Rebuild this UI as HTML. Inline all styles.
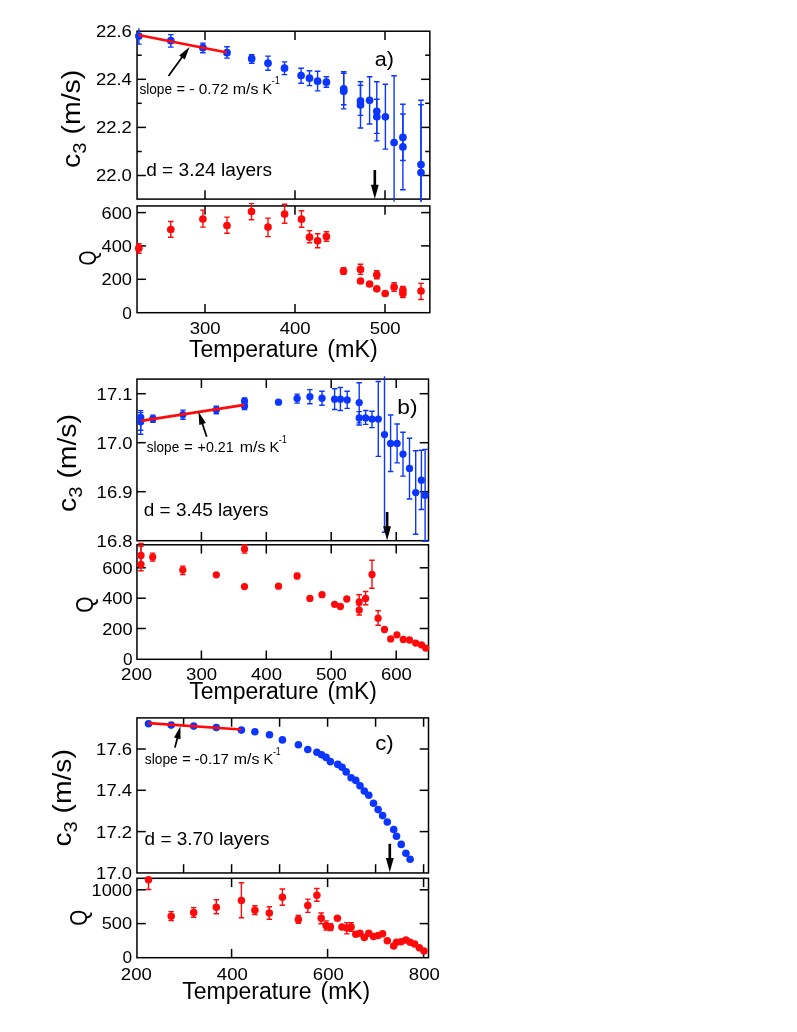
<!DOCTYPE html>
<html><head><meta charset="utf-8"><title>Figure</title>
<style>
html,body{margin:0;padding:0;background:#fff;}
svg{display:block;font-family:"Liberation Sans",sans-serif;will-change:transform;}
text{fill:#000;}
</style></head>
<body>
<svg width="797" height="1032" viewBox="0 0 797 1032">
<rect width="797" height="1032" fill="#fff"/>
<rect x="137.05" y="31.2" width="292.8" height="167.9" fill="none" stroke="#000" stroke-width="1.5"/>
<rect x="137.05" y="205.95" width="292.8" height="106.75" fill="none" stroke="#000" stroke-width="1.5"/>
<line x1="205.0" y1="31.2" x2="205.0" y2="40.0" stroke="#000" stroke-width="1.5" />
<line x1="205.0" y1="199.1" x2="205.0" y2="190.3" stroke="#000" stroke-width="1.5" />
<line x1="295.0" y1="31.2" x2="295.0" y2="40.0" stroke="#000" stroke-width="1.5" />
<line x1="295.0" y1="199.1" x2="295.0" y2="190.3" stroke="#000" stroke-width="1.5" />
<line x1="385.0" y1="31.2" x2="385.0" y2="40.0" stroke="#000" stroke-width="1.5" />
<line x1="385.0" y1="199.1" x2="385.0" y2="190.3" stroke="#000" stroke-width="1.5" />
<line x1="205.0" y1="205.9" x2="205.0" y2="214.8" stroke="#000" stroke-width="1.5" />
<line x1="205.0" y1="312.7" x2="205.0" y2="303.9" stroke="#000" stroke-width="1.5" />
<line x1="295.0" y1="205.9" x2="295.0" y2="214.8" stroke="#000" stroke-width="1.5" />
<line x1="295.0" y1="312.7" x2="295.0" y2="303.9" stroke="#000" stroke-width="1.5" />
<line x1="385.0" y1="205.9" x2="385.0" y2="214.8" stroke="#000" stroke-width="1.5" />
<line x1="385.0" y1="312.7" x2="385.0" y2="303.9" stroke="#000" stroke-width="1.5" />
<line x1="137.1" y1="79.3" x2="145.9" y2="79.3" stroke="#000" stroke-width="1.5" />
<line x1="429.9" y1="79.3" x2="421.1" y2="79.3" stroke="#000" stroke-width="1.5" />
<line x1="137.1" y1="127.4" x2="145.9" y2="127.4" stroke="#000" stroke-width="1.5" />
<line x1="429.9" y1="127.4" x2="421.1" y2="127.4" stroke="#000" stroke-width="1.5" />
<line x1="137.1" y1="175.5" x2="145.9" y2="175.5" stroke="#000" stroke-width="1.5" />
<line x1="429.9" y1="175.5" x2="421.1" y2="175.5" stroke="#000" stroke-width="1.5" />
<line x1="137.1" y1="55.2" x2="141.7" y2="55.2" stroke="#000" stroke-width="1.5" />
<line x1="429.9" y1="55.2" x2="425.2" y2="55.2" stroke="#000" stroke-width="1.5" />
<line x1="137.1" y1="103.3" x2="141.7" y2="103.3" stroke="#000" stroke-width="1.5" />
<line x1="429.9" y1="103.3" x2="425.2" y2="103.3" stroke="#000" stroke-width="1.5" />
<line x1="137.1" y1="151.5" x2="141.7" y2="151.5" stroke="#000" stroke-width="1.5" />
<line x1="429.9" y1="151.5" x2="425.2" y2="151.5" stroke="#000" stroke-width="1.5" />
<line x1="137.1" y1="212.6" x2="145.9" y2="212.6" stroke="#000" stroke-width="1.5" />
<line x1="429.9" y1="212.6" x2="421.1" y2="212.6" stroke="#000" stroke-width="1.5" />
<line x1="137.1" y1="245.9" x2="145.9" y2="245.9" stroke="#000" stroke-width="1.5" />
<line x1="429.9" y1="245.9" x2="421.1" y2="245.9" stroke="#000" stroke-width="1.5" />
<line x1="137.1" y1="279.3" x2="145.9" y2="279.3" stroke="#000" stroke-width="1.5" />
<line x1="429.9" y1="279.3" x2="421.1" y2="279.3" stroke="#000" stroke-width="1.5" />
<rect x="136.95" y="379.1" width="291.55" height="161.60000000000002" fill="none" stroke="#000" stroke-width="1.5"/>
<rect x="136.95" y="544.8" width="291.55" height="114.5" fill="none" stroke="#000" stroke-width="1.5"/>
<line x1="201.4" y1="379.1" x2="201.4" y2="387.9" stroke="#000" stroke-width="1.5" />
<line x1="201.4" y1="540.7" x2="201.4" y2="531.9" stroke="#000" stroke-width="1.5" />
<line x1="266.3" y1="379.1" x2="266.3" y2="387.9" stroke="#000" stroke-width="1.5" />
<line x1="266.3" y1="540.7" x2="266.3" y2="531.9" stroke="#000" stroke-width="1.5" />
<line x1="331.2" y1="379.1" x2="331.2" y2="387.9" stroke="#000" stroke-width="1.5" />
<line x1="331.2" y1="540.7" x2="331.2" y2="531.9" stroke="#000" stroke-width="1.5" />
<line x1="396.2" y1="379.1" x2="396.2" y2="387.9" stroke="#000" stroke-width="1.5" />
<line x1="396.2" y1="540.7" x2="396.2" y2="531.9" stroke="#000" stroke-width="1.5" />
<line x1="201.4" y1="544.8" x2="201.4" y2="553.6" stroke="#000" stroke-width="1.5" />
<line x1="201.4" y1="659.3" x2="201.4" y2="650.5" stroke="#000" stroke-width="1.5" />
<line x1="266.3" y1="544.8" x2="266.3" y2="553.6" stroke="#000" stroke-width="1.5" />
<line x1="266.3" y1="659.3" x2="266.3" y2="650.5" stroke="#000" stroke-width="1.5" />
<line x1="331.2" y1="544.8" x2="331.2" y2="553.6" stroke="#000" stroke-width="1.5" />
<line x1="331.2" y1="659.3" x2="331.2" y2="650.5" stroke="#000" stroke-width="1.5" />
<line x1="396.2" y1="544.8" x2="396.2" y2="553.6" stroke="#000" stroke-width="1.5" />
<line x1="396.2" y1="659.3" x2="396.2" y2="650.5" stroke="#000" stroke-width="1.5" />
<line x1="136.9" y1="393.7" x2="145.8" y2="393.7" stroke="#000" stroke-width="1.5" />
<line x1="428.5" y1="393.7" x2="419.7" y2="393.7" stroke="#000" stroke-width="1.5" />
<line x1="136.9" y1="442.7" x2="145.8" y2="442.7" stroke="#000" stroke-width="1.5" />
<line x1="428.5" y1="442.7" x2="419.7" y2="442.7" stroke="#000" stroke-width="1.5" />
<line x1="136.9" y1="491.7" x2="145.8" y2="491.7" stroke="#000" stroke-width="1.5" />
<line x1="428.5" y1="491.7" x2="419.7" y2="491.7" stroke="#000" stroke-width="1.5" />
<line x1="136.9" y1="567.8" x2="145.8" y2="567.8" stroke="#000" stroke-width="1.5" />
<line x1="428.5" y1="567.8" x2="419.7" y2="567.8" stroke="#000" stroke-width="1.5" />
<line x1="136.9" y1="598.2" x2="145.8" y2="598.2" stroke="#000" stroke-width="1.5" />
<line x1="428.5" y1="598.2" x2="419.7" y2="598.2" stroke="#000" stroke-width="1.5" />
<line x1="136.9" y1="628.5" x2="145.8" y2="628.5" stroke="#000" stroke-width="1.5" />
<line x1="428.5" y1="628.5" x2="419.7" y2="628.5" stroke="#000" stroke-width="1.5" />
<rect x="136.95" y="717.9" width="291.55" height="155.05000000000007" fill="none" stroke="#000" stroke-width="1.5"/>
<rect x="136.95" y="878.3" width="291.55" height="79.40000000000009" fill="none" stroke="#000" stroke-width="1.5"/>
<line x1="183.6" y1="717.9" x2="183.6" y2="726.7" stroke="#000" stroke-width="1.5" />
<line x1="183.6" y1="873.0" x2="183.6" y2="864.2" stroke="#000" stroke-width="1.5" />
<line x1="231.6" y1="717.9" x2="231.6" y2="726.7" stroke="#000" stroke-width="1.5" />
<line x1="231.6" y1="873.0" x2="231.6" y2="864.2" stroke="#000" stroke-width="1.5" />
<line x1="279.6" y1="717.9" x2="279.6" y2="726.7" stroke="#000" stroke-width="1.5" />
<line x1="279.6" y1="873.0" x2="279.6" y2="864.2" stroke="#000" stroke-width="1.5" />
<line x1="327.6" y1="717.9" x2="327.6" y2="726.7" stroke="#000" stroke-width="1.5" />
<line x1="327.6" y1="873.0" x2="327.6" y2="864.2" stroke="#000" stroke-width="1.5" />
<line x1="375.6" y1="717.9" x2="375.6" y2="726.7" stroke="#000" stroke-width="1.5" />
<line x1="375.6" y1="873.0" x2="375.6" y2="864.2" stroke="#000" stroke-width="1.5" />
<line x1="423.6" y1="717.9" x2="423.6" y2="726.7" stroke="#000" stroke-width="1.5" />
<line x1="423.6" y1="873.0" x2="423.6" y2="864.2" stroke="#000" stroke-width="1.5" />
<line x1="231.6" y1="878.3" x2="231.6" y2="887.1" stroke="#000" stroke-width="1.5" />
<line x1="231.6" y1="957.7" x2="231.6" y2="948.9" stroke="#000" stroke-width="1.5" />
<line x1="327.6" y1="878.3" x2="327.6" y2="887.1" stroke="#000" stroke-width="1.5" />
<line x1="327.6" y1="957.7" x2="327.6" y2="948.9" stroke="#000" stroke-width="1.5" />
<line x1="423.6" y1="878.3" x2="423.6" y2="887.1" stroke="#000" stroke-width="1.5" />
<line x1="423.6" y1="957.7" x2="423.6" y2="948.9" stroke="#000" stroke-width="1.5" />
<line x1="136.9" y1="749.0" x2="145.8" y2="749.0" stroke="#000" stroke-width="1.5" />
<line x1="428.5" y1="749.0" x2="419.7" y2="749.0" stroke="#000" stroke-width="1.5" />
<line x1="136.9" y1="790.3" x2="145.8" y2="790.3" stroke="#000" stroke-width="1.5" />
<line x1="428.5" y1="790.3" x2="419.7" y2="790.3" stroke="#000" stroke-width="1.5" />
<line x1="136.9" y1="831.6" x2="145.8" y2="831.6" stroke="#000" stroke-width="1.5" />
<line x1="428.5" y1="831.6" x2="419.7" y2="831.6" stroke="#000" stroke-width="1.5" />
<line x1="136.9" y1="889.8" x2="145.8" y2="889.8" stroke="#000" stroke-width="1.5" />
<line x1="428.5" y1="889.8" x2="419.7" y2="889.8" stroke="#000" stroke-width="1.5" />
<line x1="136.9" y1="923.6" x2="145.8" y2="923.6" stroke="#000" stroke-width="1.5" />
<line x1="428.5" y1="923.6" x2="419.7" y2="923.6" stroke="#000" stroke-width="1.5" />
<clipPath id="ca"><rect x="132.05" y="20" width="302.8" height="181.7"/></clipPath>
<clipPath id="caq"><rect x="132.05" y="203" width="302.8" height="115"/></clipPath>
<g stroke="#0a36ff" stroke-width="1.4" fill="none" clip-path="url(#ca)">
<path d="M138.9 28.3V44.1M136.1 44.1h5.6"/>
<path d="M170.8 34.6V47.1M168.0 34.6h5.6M168.0 47.1h5.6"/>
<path d="M202.9 43.1V52.7M200.1 43.1h5.6M200.1 52.7h5.6"/>
<path d="M227.0 46.7V58.1M224.2 46.7h5.6M224.2 58.1h5.6"/>
<path d="M251.7 54.7V63.2M248.9 54.7h5.6M248.9 63.2h5.6"/>
<path d="M268.0 56.1V70.2M265.2 56.1h5.6M265.2 70.2h5.6"/>
<path d="M284.5 61.9V74.6M281.7 61.9h5.6M281.7 74.6h5.6"/>
<path d="M301.1 68.2V83.2M298.3 68.2h5.6M298.3 83.2h5.6"/>
<path d="M309.5 70.8V85.6M306.7 70.8h5.6M306.7 85.6h5.6"/>
<path d="M317.6 71.2V90.9M314.8 71.2h5.6M314.8 90.9h5.6"/>
<path d="M326.4 76.8V87.2M323.6 76.8h5.6M323.6 87.2h5.6"/>
<path d="M343.7 71.8V104.7M340.9 71.8h5.6M340.9 104.7h5.6"/>
<path d="M343.7 73.2V108.9M340.9 73.2h5.6M340.9 108.9h5.6"/>
<path d="M360.5 81.8V115.4M357.7 81.8h5.6M357.7 115.4h5.6"/>
<path d="M360.5 85.2V128.0M357.7 85.2h5.6M357.7 128.0h5.6"/>
<path d="M369.6 76.8V124.0M366.8 76.8h5.6M366.8 124.0h5.6"/>
<path d="M376.8 81.8V133.4M374.0 81.8h5.6M374.0 133.4h5.6"/>
<path d="M376.8 99.3V140.9M374.0 99.3h5.6M374.0 140.9h5.6"/>
<path d="M385.4 84.2V149.1M382.6 84.2h5.6M382.6 149.1h5.6"/>
<path d="M394.1 75.8V230.0M391.3 75.8h5.6"/>
<path d="M402.9 104.3V160.5M400.1 104.3h5.6M400.1 160.5h5.6"/>
<path d="M402.9 114.0V189.7M400.1 114.0h5.6M400.1 189.7h5.6"/>
<path d="M421.0 100.3V230.0M418.2 100.3h5.6"/>
<path d="M421.0 104.7V230.0M418.2 104.7h5.6"/>
</g>
<g fill="#0a36ff">
<circle cx="138.9" cy="36.1" r="3.85"/>
<circle cx="170.8" cy="40.7" r="3.85"/>
<circle cx="202.9" cy="47.7" r="3.85"/>
<circle cx="227.0" cy="52.7" r="3.85"/>
<circle cx="251.7" cy="58.7" r="3.85"/>
<circle cx="268.0" cy="63.2" r="3.85"/>
<circle cx="284.5" cy="68.2" r="3.85"/>
<circle cx="301.1" cy="75.6" r="3.85"/>
<circle cx="309.5" cy="78.2" r="3.85"/>
<circle cx="317.6" cy="81.2" r="3.85"/>
<circle cx="326.4" cy="82.2" r="3.85"/>
<circle cx="343.7" cy="88.9" r="3.85"/>
<circle cx="343.7" cy="91.3" r="3.85"/>
<circle cx="360.5" cy="100.9" r="3.85"/>
<circle cx="360.5" cy="104.9" r="3.85"/>
<circle cx="369.6" cy="100.3" r="3.85"/>
<circle cx="376.8" cy="111.3" r="3.85"/>
<circle cx="376.8" cy="116.8" r="3.85"/>
<circle cx="385.4" cy="116.8" r="3.85"/>
<circle cx="394.1" cy="142.5" r="3.85"/>
<circle cx="402.9" cy="137.4" r="3.85"/>
<circle cx="402.9" cy="146.9" r="3.85"/>
<circle cx="421.0" cy="164.6" r="3.85"/>
<circle cx="421.0" cy="172.6" r="3.85"/>
</g>
<line x1="138.4" y1="35" x2="227" y2="52.5" stroke="#ff0a0a" stroke-width="2.7"/>
<path d="M168.5 76.1L183.1 55.7" stroke="#000" stroke-width="1.75" fill="none"/>
<path d="M184.8 59.4L179.2 55.4L189.5 46.9Z" fill="#000"/>
<g stroke="#ff0a0a" stroke-width="1.4" fill="none" clip-path="url(#caq)">
<path d="M138.8 243.8V253.2M136.0 243.8h5.6M136.0 253.2h5.6"/>
<path d="M170.8 221.5V237.2M168.0 221.5h5.6M168.0 237.2h5.6"/>
<path d="M202.9 210.1V227.1M200.1 210.1h5.6M200.1 227.1h5.6"/>
<path d="M227.0 217.1V233.2M224.2 217.1h5.6M224.2 233.2h5.6"/>
<path d="M251.5 203.4V219.7M248.7 203.4h5.6M248.7 219.7h5.6"/>
<path d="M268.0 218.1V236.6M265.2 218.1h5.6M265.2 236.6h5.6"/>
<path d="M284.6 204.3V223.3M281.8 204.3h5.6M281.8 223.3h5.6"/>
<path d="M301.5 210.7V227.2M298.7 210.7h5.6M298.7 227.2h5.6"/>
<path d="M309.5 230.6V242.7M306.7 230.6h5.6M306.7 242.7h5.6"/>
<path d="M317.6 233.8V247.7M314.8 233.8h5.6M314.8 247.7h5.6"/>
<path d="M326.4 231.8V241.2M323.6 231.8h5.6M323.6 241.2h5.6"/>
<path d="M343.5 267.8V274.4M340.7 267.8h5.6M340.7 274.4h5.6"/>
<path d="M360.5 264.3V274.4M357.7 264.3h5.6M357.7 274.4h5.6"/>
<path d="M376.8 270.8V278.8M374.0 270.8h5.6M374.0 278.8h5.6"/>
<path d="M394.1 282.8V291.4M391.3 282.8h5.6M391.3 291.4h5.6"/>
<path d="M402.9 286.4V293.5M400.1 286.4h5.6M400.1 293.5h5.6"/>
<path d="M402.9 289.4V297.5M400.1 289.4h5.6M400.1 297.5h5.6"/>
<path d="M421.0 283.4V299.5M418.2 283.4h5.6M418.2 299.5h5.6"/>
</g>
<g fill="#ff0a0a">
<circle cx="138.8" cy="248.2" r="3.85"/>
<circle cx="170.8" cy="229.5" r="3.85"/>
<circle cx="202.9" cy="219.1" r="3.85"/>
<circle cx="227.0" cy="225.5" r="3.85"/>
<circle cx="251.5" cy="211.5" r="3.85"/>
<circle cx="268.0" cy="227.1" r="3.85"/>
<circle cx="284.6" cy="214.1" r="3.85"/>
<circle cx="301.5" cy="219.2" r="3.85"/>
<circle cx="309.5" cy="237.2" r="3.85"/>
<circle cx="317.6" cy="240.8" r="3.85"/>
<circle cx="326.4" cy="236.6" r="3.85"/>
<circle cx="343.5" cy="271.0" r="3.85"/>
<circle cx="360.5" cy="269.4" r="3.85"/>
<circle cx="360.5" cy="281.0" r="3.85"/>
<circle cx="369.6" cy="284.0" r="3.85"/>
<circle cx="376.8" cy="274.8" r="3.85"/>
<circle cx="376.8" cy="288.8" r="3.85"/>
<circle cx="385.2" cy="293.5" r="3.85"/>
<circle cx="394.1" cy="287.0" r="3.85"/>
<circle cx="402.9" cy="290.0" r="3.85"/>
<circle cx="402.9" cy="293.5" r="3.85"/>
<circle cx="421.0" cy="291.0" r="3.85"/>
</g>
<text x="95.9" y="37.1" font-size="16.3" text-anchor="start" textLength="36.0" lengthAdjust="spacingAndGlyphs" >22.6</text>
<text x="95.9" y="85.2" font-size="16.3" text-anchor="start" textLength="36.0" lengthAdjust="spacingAndGlyphs" >22.4</text>
<text x="95.9" y="133.3" font-size="16.3" text-anchor="start" textLength="36.0" lengthAdjust="spacingAndGlyphs" >22.2</text>
<text x="95.9" y="181.4" font-size="16.3" text-anchor="start" textLength="36.0" lengthAdjust="spacingAndGlyphs" >22.0</text>
<text x="101.5" y="218.5" font-size="16.3" text-anchor="start" textLength="30.4" lengthAdjust="spacingAndGlyphs" >600</text>
<text x="101.5" y="251.9" font-size="16.3" text-anchor="start" textLength="30.4" lengthAdjust="spacingAndGlyphs" >400</text>
<text x="101.5" y="285.2" font-size="16.3" text-anchor="start" textLength="30.4" lengthAdjust="spacingAndGlyphs" >200</text>
<text x="122.3" y="318.6" font-size="16.3" text-anchor="start" textLength="9.6" lengthAdjust="spacingAndGlyphs" >0</text>
<text x="189.7" y="333.9" font-size="16.3" text-anchor="start" textLength="31.0" lengthAdjust="spacingAndGlyphs" >300</text>
<text x="279.7" y="333.9" font-size="16.3" text-anchor="start" textLength="31.0" lengthAdjust="spacingAndGlyphs" >400</text>
<text x="369.7" y="333.9" font-size="16.3" text-anchor="start" textLength="31.0" lengthAdjust="spacingAndGlyphs" >500</text>
<text x="189.0" y="356.6" font-size="23.5" text-anchor="start" textLength="129.2" lengthAdjust="spacingAndGlyphs" >Temperature</text>
<text x="327.2" y="356.6" font-size="23.5" text-anchor="start" textLength="50.6" lengthAdjust="spacingAndGlyphs" >(mK)</text>
<text transform="translate(79.9,168.0) rotate(-90)" font-size="26" textLength="98.3" lengthAdjust="spacingAndGlyphs">c<tspan font-size="18.5" dy="6">3</tspan><tspan dy="-6"> (m/s)</tspan></text>
<text transform="translate(95.8,258.0) rotate(-90)" font-size="23.5" text-anchor="middle" textLength="15" lengthAdjust="spacingAndGlyphs">Q</text>
<text x="374.8" y="66.1" font-size="19.5" text-anchor="start" textLength="19.2" lengthAdjust="spacingAndGlyphs" >a)</text>
<text x="146.2" y="175.9" font-size="18" text-anchor="start" textLength="125.8" lengthAdjust="spacingAndGlyphs" >d = 3.24 layers</text>
<text x="139.4" y="93.5" font-size="14.2" text-anchor="start" textLength="32.7" lengthAdjust="spacingAndGlyphs" >slope</text>
<text x="176.6" y="93.5" font-size="14.2" text-anchor="start" textLength="8.6" lengthAdjust="spacingAndGlyphs" >=</text>
<text x="189.0" y="93.5" font-size="14.2" text-anchor="start" textLength="5.8" lengthAdjust="spacingAndGlyphs" >-</text>
<text x="198.7" y="93.5" font-size="14.2" text-anchor="start" textLength="29.9" lengthAdjust="spacingAndGlyphs" >0.72</text>
<text x="232.8" y="93.5" font-size="14.2" text-anchor="start" textLength="25.7" lengthAdjust="spacingAndGlyphs" >m/s</text>
<text x="262.5" y="93.5" font-size="14.2" text-anchor="start" textLength="9.6" lengthAdjust="spacingAndGlyphs" >K</text>
<text x="271.8" y="84.0" font-size="10.3" text-anchor="start" textLength="8.1" lengthAdjust="spacingAndGlyphs" >-1</text>
<path d="M374.8 170.0V186.7" stroke="#000" stroke-width="2.65" fill="none"/>
<path d="M370.9 184.7L378.7 184.7L374.8 198.9Z" fill="#000"/>
<clipPath id="cb"><rect x="131.95" y="376.2" width="301.55" height="165.90000000000003"/></clipPath>
<clipPath id="cbq"><rect x="131.95" y="541.5" width="301.55" height="121.5"/></clipPath>
<g stroke="#0a36ff" stroke-width="1.4" fill="none" clip-path="url(#cb)">
<path d="M140.7 410.6V430.2M137.9 410.6h5.5M137.9 430.2h5.5"/>
<path d="M140.7 412.6V434.2M137.9 412.6h5.5M137.9 434.2h5.5"/>
<path d="M152.9 415.1V422.2M150.2 415.1h5.5M150.2 422.2h5.5"/>
<path d="M182.9 410.1V419.2M180.2 410.1h5.5M180.2 419.2h5.5"/>
<path d="M216.3 406.2V413.8M213.6 406.2h5.5M213.6 413.8h5.5"/>
<path d="M244.5 398.0V404.0M241.8 398.0h5.5M241.8 404.0h5.5"/>
<path d="M244.5 403.0V409.5M241.8 403.0h5.5M241.8 409.5h5.5"/>
<path d="M297.1 394.1V403.1M294.4 394.1h5.5M294.4 403.1h5.5"/>
<path d="M309.9 389.6V403.7M307.1 389.6h5.5M307.1 403.7h5.5"/>
<path d="M322.0 391.3V405.2M319.2 391.3h5.5M319.2 405.2h5.5"/>
<path d="M334.6 388.8V409.5M331.9 388.8h5.5M331.9 409.5h5.5"/>
<path d="M340.4 387.5V410.5M337.6 387.5h5.5M337.6 410.5h5.5"/>
<path d="M347.2 391.3V408.4M344.4 391.3h5.5M344.4 408.4h5.5"/>
<path d="M359.2 382.8V422.9M356.4 382.8h5.5M356.4 422.9h5.5"/>
<path d="M359.2 411.6V425.0M356.4 411.6h5.5M356.4 425.0h5.5"/>
<path d="M365.6 410.5V424.4M362.9 410.5h5.5M362.9 424.4h5.5"/>
<path d="M372.0 411.2V427.6M369.2 411.2h5.5M369.2 427.6h5.5"/>
<path d="M378.3 381.5V456.4M375.6 381.5h5.5M375.6 456.4h5.5"/>
<path d="M384.5 370.0V532.2M381.8 532.2h5.5"/>
<path d="M390.6 415.0V471.5M387.9 415.0h5.5M387.9 471.5h5.5"/>
<path d="M397.1 424.0V462.9M394.4 424.0h5.5M394.4 462.9h5.5"/>
<path d="M403.0 432.3V476.1M400.2 432.3h5.5M400.2 476.1h5.5"/>
<path d="M409.5 438.2V499.0M406.8 438.2h5.5M406.8 499.0h5.5"/>
<path d="M415.7 450.7V534.2M412.9 450.7h5.5M412.9 534.2h5.5"/>
<path d="M421.4 450.2V509.5M418.6 450.2h5.5M418.6 509.5h5.5"/>
<path d="M425.1 449.4V541.3M422.4 449.4h5.5M422.4 541.3h5.5"/>
</g>
<g fill="#0a36ff">
<circle cx="140.7" cy="417.3" r="3.65"/>
<circle cx="140.7" cy="421.8" r="3.65"/>
<circle cx="152.9" cy="418.7" r="3.65"/>
<circle cx="182.9" cy="414.6" r="3.65"/>
<circle cx="216.3" cy="409.8" r="3.65"/>
<circle cx="244.5" cy="401.1" r="3.65"/>
<circle cx="244.5" cy="406.1" r="3.65"/>
<circle cx="278.5" cy="402.2" r="3.65"/>
<circle cx="297.1" cy="398.4" r="3.65"/>
<circle cx="309.9" cy="396.7" r="3.65"/>
<circle cx="322.0" cy="398.2" r="3.65"/>
<circle cx="334.6" cy="399.2" r="3.65"/>
<circle cx="340.4" cy="399.2" r="3.65"/>
<circle cx="347.2" cy="399.9" r="3.65"/>
<circle cx="359.2" cy="402.6" r="3.65"/>
<circle cx="359.2" cy="418.0" r="3.65"/>
<circle cx="365.6" cy="418.0" r="3.65"/>
<circle cx="372.0" cy="419.1" r="3.65"/>
<circle cx="378.3" cy="419.1" r="3.65"/>
<circle cx="384.5" cy="434.6" r="3.65"/>
<circle cx="390.6" cy="443.4" r="3.65"/>
<circle cx="397.1" cy="443.4" r="3.65"/>
<circle cx="403.0" cy="454.1" r="3.65"/>
<circle cx="409.5" cy="468.4" r="3.65"/>
<circle cx="415.7" cy="492.6" r="3.65"/>
<circle cx="421.4" cy="480.2" r="3.65"/>
<circle cx="425.1" cy="495.3" r="3.65"/>
</g>
<line x1="141" y1="420.8" x2="244.5" y2="404.9" stroke="#ff0a0a" stroke-width="2.7"/>
<path d="M206.7 436.7L201.9 422.2" stroke="#000" stroke-width="1.75" fill="none"/>
<path d="M205.8 423.0L199.3 425.1L198.5 411.8Z" fill="#000"/>
<g stroke="#ff0a0a" stroke-width="1.4" fill="none" clip-path="url(#cbq)">
<path d="M141.0 543.5V566.0M138.2 543.5h5.5M138.2 566.0h5.5"/>
<path d="M141.0 546.2V570.8M138.2 546.2h5.5M138.2 570.8h5.5"/>
<path d="M152.7 553.1V561.1M149.9 553.1h5.5M149.9 561.1h5.5"/>
<path d="M182.8 566.1V574.6M180.1 566.1h5.5M180.1 574.6h5.5"/>
<path d="M244.5 545.0V553.1M241.8 545.0h5.5M241.8 553.1h5.5"/>
<path d="M297.1 573.5V578.5M294.4 573.5h5.5M294.4 578.5h5.5"/>
<path d="M359.2 594.7V608.6M356.4 594.7h5.5M356.4 608.6h5.5"/>
<path d="M359.2 605.0V615.0M356.4 605.0h5.5M356.4 615.0h5.5"/>
<path d="M365.6 591.5V604.8M362.9 591.5h5.5M362.9 604.8h5.5"/>
<path d="M372.0 560.2V588.3M369.2 560.2h5.5M369.2 588.3h5.5"/>
<path d="M378.1 610.7V625.2M375.4 610.7h5.5M375.4 625.2h5.5"/>
</g>
<g fill="#ff0a0a">
<circle cx="141.0" cy="555.4" r="3.65"/>
<circle cx="141.0" cy="564.4" r="3.65"/>
<circle cx="152.7" cy="557.1" r="3.65"/>
<circle cx="182.8" cy="570.1" r="3.65"/>
<circle cx="216.3" cy="574.8" r="3.65"/>
<circle cx="244.5" cy="549.1" r="3.65"/>
<circle cx="244.5" cy="586.6" r="3.65"/>
<circle cx="278.5" cy="586.2" r="3.65"/>
<circle cx="297.1" cy="576.0" r="3.65"/>
<circle cx="309.9" cy="598.4" r="3.65"/>
<circle cx="322.0" cy="594.7" r="3.65"/>
<circle cx="334.6" cy="604.3" r="3.65"/>
<circle cx="340.4" cy="606.5" r="3.65"/>
<circle cx="346.8" cy="599.0" r="3.65"/>
<circle cx="359.2" cy="601.8" r="3.65"/>
<circle cx="359.2" cy="610.1" r="3.65"/>
<circle cx="365.6" cy="598.4" r="3.65"/>
<circle cx="372.0" cy="574.5" r="3.65"/>
<circle cx="378.1" cy="618.2" r="3.65"/>
<circle cx="384.5" cy="629.5" r="3.65"/>
<circle cx="390.7" cy="638.9" r="3.65"/>
<circle cx="396.9" cy="634.8" r="3.65"/>
<circle cx="403.3" cy="639.5" r="3.65"/>
<circle cx="409.5" cy="640.0" r="3.65"/>
<circle cx="415.7" cy="643.1" r="3.65"/>
<circle cx="421.5" cy="644.9" r="3.65"/>
<circle cx="425.7" cy="648.1" r="3.65"/>
</g>
<text x="96.6" y="399.6" font-size="16.3" text-anchor="start" textLength="36.0" lengthAdjust="spacingAndGlyphs" >17.1</text>
<text x="96.6" y="448.6" font-size="16.3" text-anchor="start" textLength="36.0" lengthAdjust="spacingAndGlyphs" >17.0</text>
<text x="96.6" y="497.6" font-size="16.3" text-anchor="start" textLength="36.0" lengthAdjust="spacingAndGlyphs" >16.9</text>
<text x="96.6" y="547.0" font-size="16.3" text-anchor="start" textLength="36.0" lengthAdjust="spacingAndGlyphs" >16.8</text>
<text x="102.2" y="573.8" font-size="16.3" text-anchor="start" textLength="30.4" lengthAdjust="spacingAndGlyphs" >600</text>
<text x="102.2" y="604.2" font-size="16.3" text-anchor="start" textLength="30.4" lengthAdjust="spacingAndGlyphs" >400</text>
<text x="102.2" y="634.5" font-size="16.3" text-anchor="start" textLength="30.4" lengthAdjust="spacingAndGlyphs" >200</text>
<text x="123.0" y="665.0" font-size="16.3" text-anchor="start" textLength="9.6" lengthAdjust="spacingAndGlyphs" >0</text>
<text x="121.1" y="680.0" font-size="16.3" text-anchor="start" textLength="31.0" lengthAdjust="spacingAndGlyphs" >200</text>
<text x="186.1" y="680.0" font-size="16.3" text-anchor="start" textLength="31.0" lengthAdjust="spacingAndGlyphs" >300</text>
<text x="251.0" y="680.0" font-size="16.3" text-anchor="start" textLength="31.0" lengthAdjust="spacingAndGlyphs" >400</text>
<text x="315.9" y="680.0" font-size="16.3" text-anchor="start" textLength="31.0" lengthAdjust="spacingAndGlyphs" >500</text>
<text x="380.9" y="680.0" font-size="16.3" text-anchor="start" textLength="31.0" lengthAdjust="spacingAndGlyphs" >600</text>
<text x="189.3" y="699.0" font-size="23.5" text-anchor="start" textLength="129.2" lengthAdjust="spacingAndGlyphs" >Temperature</text>
<text x="327.5" y="699.0" font-size="23.5" text-anchor="start" textLength="49.3" lengthAdjust="spacingAndGlyphs" >(mK)</text>
<text transform="translate(76.0,511.9) rotate(-90)" font-size="26" textLength="97.9" lengthAdjust="spacingAndGlyphs">c<tspan font-size="18.5" dy="6">3</tspan><tspan dy="-6"> (m/s)</tspan></text>
<text transform="translate(93.3,604.6) rotate(-90)" font-size="23.5" text-anchor="middle" textLength="16.2" lengthAdjust="spacingAndGlyphs">Q</text>
<text x="397.3" y="413.6" font-size="19.5" text-anchor="start" textLength="20.2" lengthAdjust="spacingAndGlyphs" >b)</text>
<text x="143.8" y="516.3" font-size="18" text-anchor="start" textLength="124.8" lengthAdjust="spacingAndGlyphs" >d = 3.45 layers</text>
<text x="146.8" y="452.2" font-size="14.2" text-anchor="start" textLength="32.4" lengthAdjust="spacingAndGlyphs" >slope</text>
<text x="184.0" y="452.2" font-size="14.2" text-anchor="start" textLength="8.8" lengthAdjust="spacingAndGlyphs" >=</text>
<text x="197.6" y="452.2" font-size="14.2" text-anchor="start" textLength="36.0" lengthAdjust="spacingAndGlyphs" >+0.21</text>
<text x="239.8" y="452.2" font-size="14.2" text-anchor="start" textLength="25.7" lengthAdjust="spacingAndGlyphs" >m/s</text>
<text x="269.5" y="452.2" font-size="14.2" text-anchor="start" textLength="9.7" lengthAdjust="spacingAndGlyphs" >K</text>
<text x="278.7" y="442.7" font-size="10.3" text-anchor="start" textLength="8.2" lengthAdjust="spacingAndGlyphs" >-1</text>
<path d="M387.1 512.0V528.2" stroke="#000" stroke-width="2.65" fill="none"/>
<path d="M383.2 526.2L391.0 526.2L387.1 540.4Z" fill="#000"/>
<clipPath id="ccq"><rect x="131.95" y="877.4" width="301.55" height="90"/></clipPath>
<g stroke="#0a36ff" stroke-width="1.4" fill="none">
</g>
<g fill="#0a36ff">
<circle cx="148.5" cy="723.7" r="3.8"/>
<circle cx="171.2" cy="725.1" r="3.8"/>
<circle cx="193.7" cy="726.1" r="3.8"/>
<circle cx="216.3" cy="727.5" r="3.8"/>
<circle cx="241.4" cy="730.1" r="3.8"/>
<circle cx="254.9" cy="731.7" r="3.8"/>
<circle cx="269.5" cy="734.8" r="3.8"/>
<circle cx="282.4" cy="739.9" r="3.8"/>
<circle cx="298.4" cy="744.8" r="3.8"/>
<circle cx="307.8" cy="749.5" r="3.8"/>
<circle cx="316.9" cy="752.2" r="3.8"/>
<circle cx="321.6" cy="754.8" r="3.8"/>
<circle cx="326.1" cy="757.4" r="3.8"/>
<circle cx="330.4" cy="761.6" r="3.8"/>
<circle cx="337.8" cy="764.4" r="3.8"/>
<circle cx="342.1" cy="767.2" r="3.8"/>
<circle cx="346.2" cy="771.9" r="3.8"/>
<circle cx="351.1" cy="777.8" r="3.8"/>
<circle cx="355.8" cy="780.4" r="3.8"/>
<circle cx="360.0" cy="785.7" r="3.8"/>
<circle cx="364.3" cy="791.1" r="3.8"/>
<circle cx="368.8" cy="795.3" r="3.8"/>
<circle cx="373.5" cy="803.2" r="3.8"/>
<circle cx="378.1" cy="809.6" r="3.8"/>
<circle cx="382.6" cy="815.6" r="3.8"/>
<circle cx="387.3" cy="822.0" r="3.8"/>
<circle cx="393.7" cy="829.5" r="3.8"/>
<circle cx="396.5" cy="836.3" r="3.8"/>
<circle cx="401.2" cy="844.4" r="3.8"/>
<circle cx="405.9" cy="853.3" r="3.8"/>
<circle cx="410.1" cy="859.3" r="3.8"/>
</g>
<line x1="148.4" y1="723.15" x2="241" y2="729.5" stroke="#ff0a0a" stroke-width="2.7"/>
<path d="M174.9 747.6L177.8 736.5" stroke="#000" stroke-width="1.75" fill="none"/>
<path d="M180.5 739.2L174.1 737.6L180.4 726.2Z" fill="#000"/>
<g stroke="#ff0a0a" stroke-width="1.4" fill="none" clip-path="url(#ccq)">
<path d="M148.5 860.0V889.5M145.8 860.0h5.5M145.8 889.5h5.5"/>
<path d="M171.2 911.6V920.6M168.4 911.6h5.5M168.4 920.6h5.5"/>
<path d="M193.7 907.6V917.2M190.9 907.6h5.5M190.9 917.2h5.5"/>
<path d="M216.3 899.7V913.8M213.6 899.7h5.5M213.6 913.8h5.5"/>
<path d="M241.4 882.7V917.8M238.7 882.7h5.5M238.7 917.8h5.5"/>
<path d="M254.9 905.8V914.6M252.2 905.8h5.5M252.2 914.6h5.5"/>
<path d="M269.3 906.8V919.2M266.6 906.8h5.5M266.6 919.2h5.5"/>
<path d="M282.4 889.0V905.3M279.6 889.0h5.5M279.6 905.3h5.5"/>
<path d="M298.4 915.5V923.2M295.6 915.5h5.5M295.6 923.2h5.5"/>
<path d="M307.8 899.1V912.4M305.1 899.1h5.5M305.1 912.4h5.5"/>
<path d="M316.9 888.5V901.3M314.1 888.5h5.5M314.1 901.3h5.5"/>
<path d="M321.2 913.0V923.7M318.4 913.0h5.5M318.4 923.7h5.5"/>
<path d="M326.1 920.9V930.0M323.4 920.9h5.5M323.4 930.0h5.5"/>
<path d="M330.4 923.7V930.5M327.6 923.7h5.5M327.6 930.5h5.5"/>
<path d="M346.8 922.6V933.9M344.1 922.6h5.5M344.1 933.9h5.5"/>
<path d="M351.1 922.6V931.2M348.4 922.6h5.5M348.4 931.2h5.5"/>
</g>
<g fill="#ff0a0a">
<circle cx="148.5" cy="879.7" r="3.75"/>
<circle cx="171.2" cy="916.2" r="3.75"/>
<circle cx="193.7" cy="912.6" r="3.75"/>
<circle cx="216.3" cy="907.2" r="3.75"/>
<circle cx="241.4" cy="900.5" r="3.75"/>
<circle cx="254.9" cy="910.2" r="3.75"/>
<circle cx="269.3" cy="913.1" r="3.75"/>
<circle cx="282.4" cy="897.3" r="3.75"/>
<circle cx="298.4" cy="919.4" r="3.75"/>
<circle cx="307.8" cy="905.5" r="3.75"/>
<circle cx="316.9" cy="895.3" r="3.75"/>
<circle cx="321.2" cy="918.3" r="3.75"/>
<circle cx="326.1" cy="925.4" r="3.75"/>
<circle cx="330.4" cy="926.9" r="3.75"/>
<circle cx="337.4" cy="918.3" r="3.75"/>
<circle cx="341.9" cy="926.9" r="3.75"/>
<circle cx="346.8" cy="927.9" r="3.75"/>
<circle cx="351.1" cy="926.9" r="3.75"/>
<circle cx="355.8" cy="934.3" r="3.75"/>
<circle cx="360.0" cy="933.3" r="3.75"/>
<circle cx="364.3" cy="937.5" r="3.75"/>
<circle cx="368.8" cy="933.3" r="3.75"/>
<circle cx="373.5" cy="936.5" r="3.75"/>
<circle cx="378.1" cy="935.4" r="3.75"/>
<circle cx="382.6" cy="933.7" r="3.75"/>
<circle cx="387.3" cy="940.7" r="3.75"/>
<circle cx="393.7" cy="946.1" r="3.75"/>
<circle cx="396.5" cy="942.2" r="3.75"/>
<circle cx="401.2" cy="941.8" r="3.75"/>
<circle cx="405.9" cy="940.1" r="3.75"/>
<circle cx="410.1" cy="942.2" r="3.75"/>
<circle cx="414.6" cy="943.9" r="3.75"/>
<circle cx="419.3" cy="947.8" r="3.75"/>
<circle cx="424.0" cy="951.0" r="3.75"/>
</g>
<text x="96.1" y="755.0" font-size="16.3" text-anchor="start" textLength="36.0" lengthAdjust="spacingAndGlyphs" >17.6</text>
<text x="96.1" y="796.2" font-size="16.3" text-anchor="start" textLength="36.0" lengthAdjust="spacingAndGlyphs" >17.4</text>
<text x="96.1" y="837.6" font-size="16.3" text-anchor="start" textLength="36.0" lengthAdjust="spacingAndGlyphs" >17.2</text>
<text x="96.1" y="879.4" font-size="16.3" text-anchor="start" textLength="36.0" lengthAdjust="spacingAndGlyphs" >17.0</text>
<text x="91.6" y="895.8" font-size="16.3" text-anchor="start" textLength="40.5" lengthAdjust="spacingAndGlyphs" >1000</text>
<text x="101.7" y="929.4" font-size="16.3" text-anchor="start" textLength="30.4" lengthAdjust="spacingAndGlyphs" >500</text>
<text x="122.5" y="963.0" font-size="16.3" text-anchor="start" textLength="9.6" lengthAdjust="spacingAndGlyphs" >0</text>
<text x="120.8" y="979.8" font-size="16.3" text-anchor="start" textLength="31.0" lengthAdjust="spacingAndGlyphs" >200</text>
<text x="216.8" y="979.8" font-size="16.3" text-anchor="start" textLength="31.0" lengthAdjust="spacingAndGlyphs" >400</text>
<text x="312.8" y="979.8" font-size="16.3" text-anchor="start" textLength="31.0" lengthAdjust="spacingAndGlyphs" >600</text>
<text x="408.8" y="979.8" font-size="16.3" text-anchor="start" textLength="31.0" lengthAdjust="spacingAndGlyphs" >800</text>
<text x="182.3" y="998.7" font-size="23.5" text-anchor="start" textLength="129.2" lengthAdjust="spacingAndGlyphs" >Temperature</text>
<text x="320.5" y="998.7" font-size="23.5" text-anchor="start" textLength="49.7" lengthAdjust="spacingAndGlyphs" >(mK)</text>
<text transform="translate(70.8,846.6) rotate(-90)" font-size="26" textLength="97.4" lengthAdjust="spacingAndGlyphs">c<tspan font-size="18.5" dy="6">3</tspan><tspan dy="-6"> (m/s)</tspan></text>
<text transform="translate(86.9,917.8) rotate(-90)" font-size="23.5" text-anchor="middle" textLength="16" lengthAdjust="spacingAndGlyphs">Q</text>
<text x="375.2" y="749.5" font-size="19.5" text-anchor="start" textLength="18.6" lengthAdjust="spacingAndGlyphs" >c)</text>
<text x="144.6" y="845.2" font-size="18" text-anchor="start" textLength="124.9" lengthAdjust="spacingAndGlyphs" >d = 3.70 layers</text>
<text x="144.8" y="764.2" font-size="14.2" text-anchor="start" textLength="33.0" lengthAdjust="spacingAndGlyphs" >slope</text>
<text x="182.2" y="764.2" font-size="14.2" text-anchor="start" textLength="8.6" lengthAdjust="spacingAndGlyphs" >=</text>
<text x="194.6" y="764.2" font-size="14.2" text-anchor="start" textLength="34.4" lengthAdjust="spacingAndGlyphs" >-0.17</text>
<text x="233.8" y="764.2" font-size="14.2" text-anchor="start" textLength="25.7" lengthAdjust="spacingAndGlyphs" >m/s</text>
<text x="263.5" y="764.2" font-size="14.2" text-anchor="start" textLength="9.7" lengthAdjust="spacingAndGlyphs" >K</text>
<text x="272.9" y="754.7" font-size="10.3" text-anchor="start" textLength="7.8" lengthAdjust="spacingAndGlyphs" >-1</text>
<path d="M389.8 843.8V860.0" stroke="#000" stroke-width="2.65" fill="none"/>
<path d="M385.9 858.0L393.7 858.0L389.8 872.2Z" fill="#000"/>
</svg>
</body></html>
